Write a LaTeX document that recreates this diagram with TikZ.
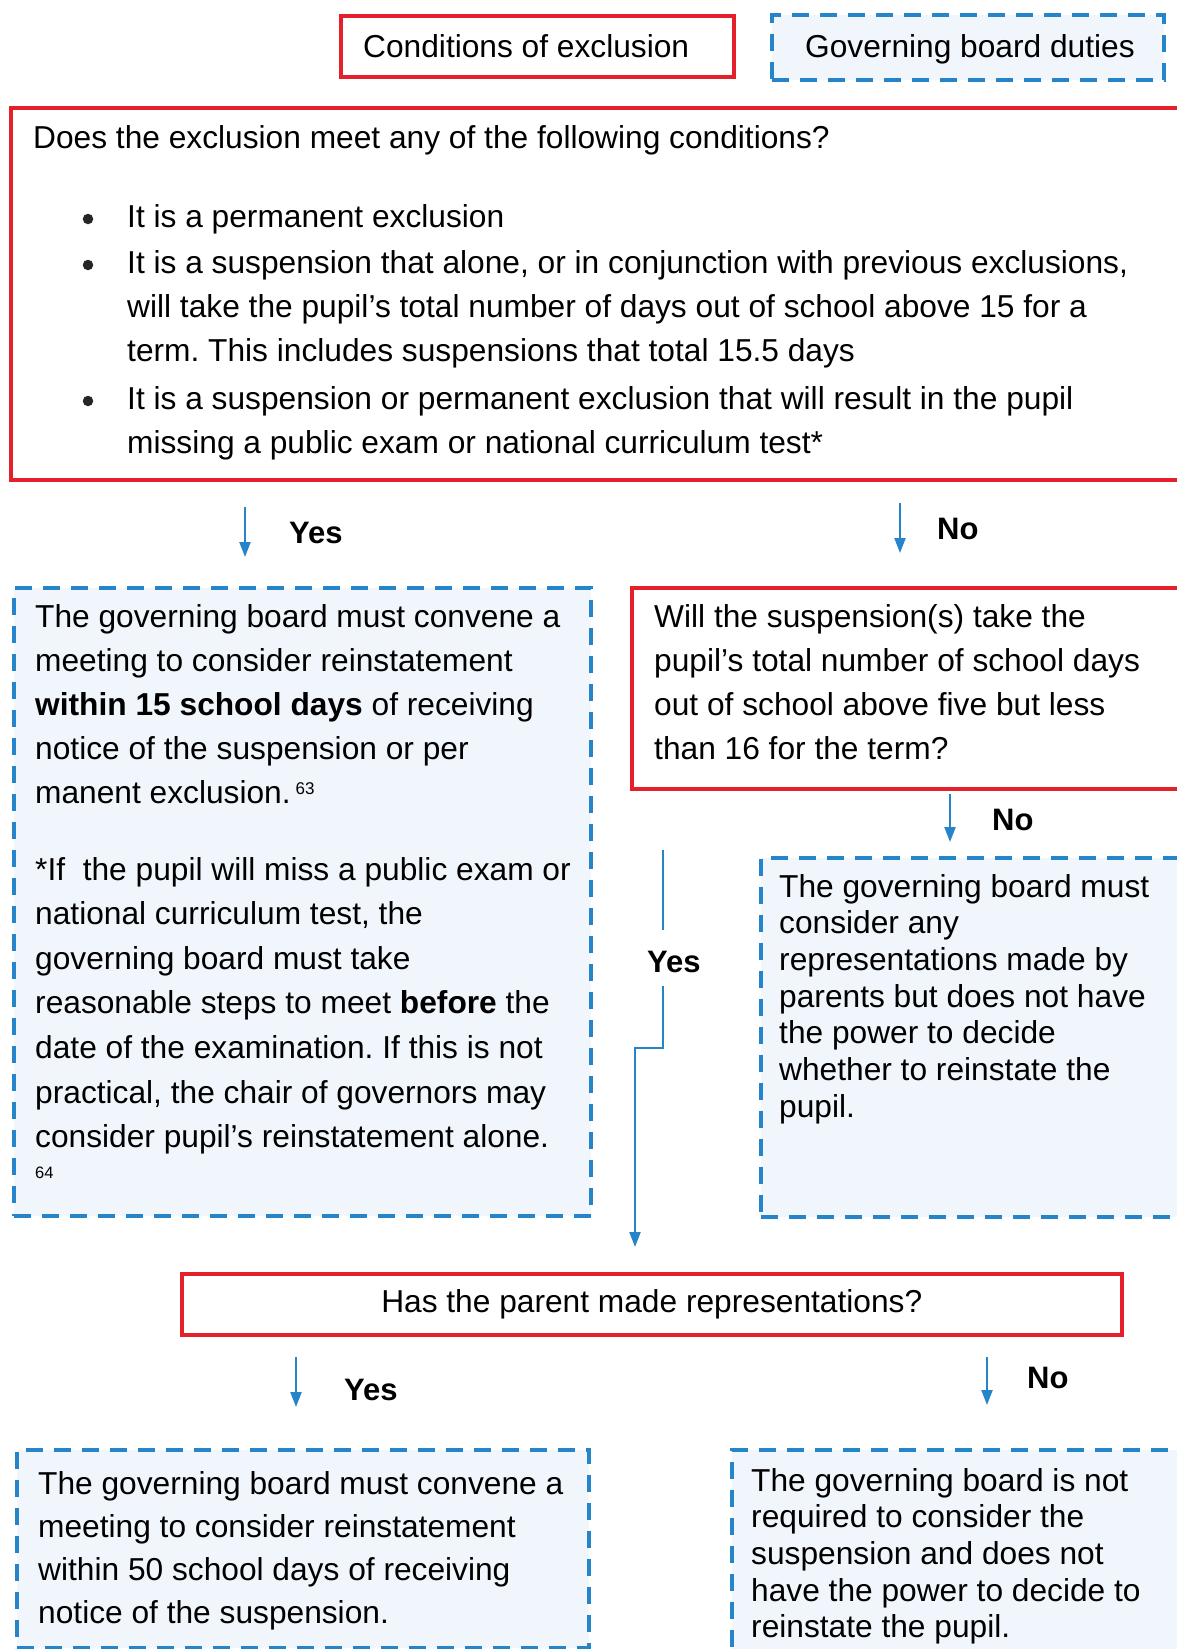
\documentclass[tikz,border=0pt]{standalone}
\usepackage{fontspec}
\setmainfont{Liberation Sans}
\usetikzlibrary{arrows.meta}
\definecolor{redb}{RGB}{228,32,42}
\definecolor{blueb}{RGB}{38,132,200}
\definecolor{bluefill}{RGB}{241,246,252}
\frenchspacing
\begin{document}
\begin{tikzpicture}[x=1pt,y=-1pt,
 redbox/.style={draw=redb, line width=3.5pt, fill=white, rectangle, inner sep=0pt, anchor=north west},
 bluebox/.style={draw=blueb, line width=3.5pt, dash pattern=on 17pt off 11pt, fill=bluefill, rectangle, inner sep=0pt, anchor=north west},
 txt/.style={inner sep=0pt, anchor=base west, align=left, font=\fontsize{31.7}{44}\selectfont},
 txtn/.style={inner sep=0pt, anchor=base west, align=left, font=\fontsize{31.7}{36.7}\selectfont},
 lbl/.style={inner sep=0pt, anchor=base west, font=\fontsize{31}{37}\selectfont\bfseries},
 conn/.style={draw=blueb, line width=2.2pt},
 arr/.style={draw=blueb, line width=2.2pt, -{Triangle[width=11pt,length=15pt]}},
 dot/.style={circle, fill=black!85, inner sep=0pt, minimum size=10.5pt}]
\useasboundingbox (0,0) rectangle (1176,1649);
\fill[white] (0,0) rectangle (1176,1649);

% legend (multi-line nodes are placed by the baseline of their LAST line)
\node[redbox, minimum width=393pt, minimum height=61pt] (cond) at (339,14) {};
\node[txt] (condt) at (363,57) {Conditions of exclusion};
\node[bluebox, minimum width=392pt, minimum height=65pt] (gov) at (770,13) {};
\node[txt] (govt) at (805,57) {Governing board duties};

% main question
\node[redbox, minimum width=1200pt, minimum height=372pt] (q1) at (9,106) {};
\node[txt] (q1t) at (33,148) {Does the exclusion meet any of the following conditions?};
\node[dot] (d1) at (88,219) {};
\node[dot] (d2) at (88,265) {};
\node[dot] (d3) at (88,401) {};
\node[txt] (b1) at (127,227) {It is a permanent exclusion};
\node[txt] (b2) at (127,361) {It is a suspension that alone, or in conjunction with previous exclusions,\\will take the pupil’s total number of days out of school above 15 for a\\term. This includes suspensions that total 15.5 days};
\node[txt] (b3) at (127,453) {It is a suspension or permanent exclusion that will result in the pupil\\missing a public exam or national curriculum test*};

% first arrows
\coordinate (a1s) at (245,507); \coordinate (a1e) at (245,557);
\draw[arr] (a1s) -- (a1e);
\node[lbl] (yes1) at (289,543) {Yes};
\coordinate (a2s) at (900,503); \coordinate (a2e) at (900,553);
\draw[arr] (a2s) -- (a2e);
\node[lbl] (no1) at (937,539) {No};

% left blue box
\node[bluebox, minimum width=577pt, minimum height=628pt] (lb) at (12,586) {};
\node[txt] (lbt1) at (35,803) {The governing board must convene a\\meeting to consider reinstatement\\\textbf{within 15 school days} of receiving\\notice of the suspension or per\\manent exclusion.\hspace{5pt}\raisebox{9pt}{\fontsize{17}{17}\selectfont 63}};
\node[inner sep=0pt, anchor=base west, align=left, font=\fontsize{31.7}{44.6}\selectfont] (lbt2) at (35,1147.6) {*If\ \ the pupil will miss a public exam or\\national curriculum test, the\\governing board must take\\reasonable steps to meet \textbf{before} the\\date of the examination. If this is not\\practical, the chair of governors may\\consider pupil’s reinstatement alone.};
\node[inner sep=0pt, anchor=base west, font=\fontsize{16.5}{17}\selectfont] (fn64) at (35,1178) {64};

% right red question
\node[redbox, minimum width=580pt, minimum height=201pt] (q2) at (630,586) {};
\node[txt] (q2t) at (654,759) {Will the suspension(s) take the\\pupil’s total number of school days\\out of school above five but less\\than 16 for the term?};

\coordinate (a3s) at (950,794); \coordinate (a3e) at (950,842);
\draw[arr] (a3s) -- (a3e);
\node[lbl] (no2) at (992,830) {No};

% right blue box
\node[bluebox, minimum width=450pt, minimum height=359pt] (rb) at (759,856) {};
\node[txtn] (rbt) at (779,1117.2) {The governing board must\\consider any\\representations made by\\parents but does not have\\the power to decide\\whether to reinstate the\\pupil.};

% yes path
\coordinate (y1) at (663,850); \coordinate (y2) at (663,930);
\coordinate (y3) at (663,986); \coordinate (y4) at (635,1048); \coordinate (y5) at (635,1247);
\draw[conn] (y1) -- (y2);
\draw[arr] (y3) |- (y4) -- (y5);
\node[lbl] (yes2) at (647,972) {Yes};

% second question
\node[redbox, minimum width=940pt, minimum height=61pt, font=\fontsize{31.7}{37}\selectfont] (q3) at (180,1272) {Has the parent made representations?};

\coordinate (a4s) at (296,1357); \coordinate (a4e) at (296,1407);
\draw[arr] (a4s) -- (a4e);
\node[lbl] (yes3) at (344,1400) {Yes};
\coordinate (a5s) at (987,1357); \coordinate (a5e) at (987,1405);
\draw[arr] (a5s) -- (a5e);
\node[lbl] (no3) at (1027,1388) {No};

% bottom boxes
\node[bluebox, minimum width=572pt, minimum height=198pt] (blb) at (15,1448) {};
\node[inner sep=0pt, anchor=base west, align=left, font=\fontsize{31.7}{43}\selectfont] (blbt) at (38,1623) {The governing board must convene a\\meeting to consider reinstatement\\within 50 school days of receiving\\notice of the suspension.};
\node[bluebox, minimum width=480pt, minimum height=260pt] (brb) at (730,1448) {};
\node[txtn] (brbt) at (751,1637.8) {The governing board is not\\required to consider the\\suspension and does not\\have the power to decide to\\reinstate the pupil.};
\end{tikzpicture}
\end{document}
